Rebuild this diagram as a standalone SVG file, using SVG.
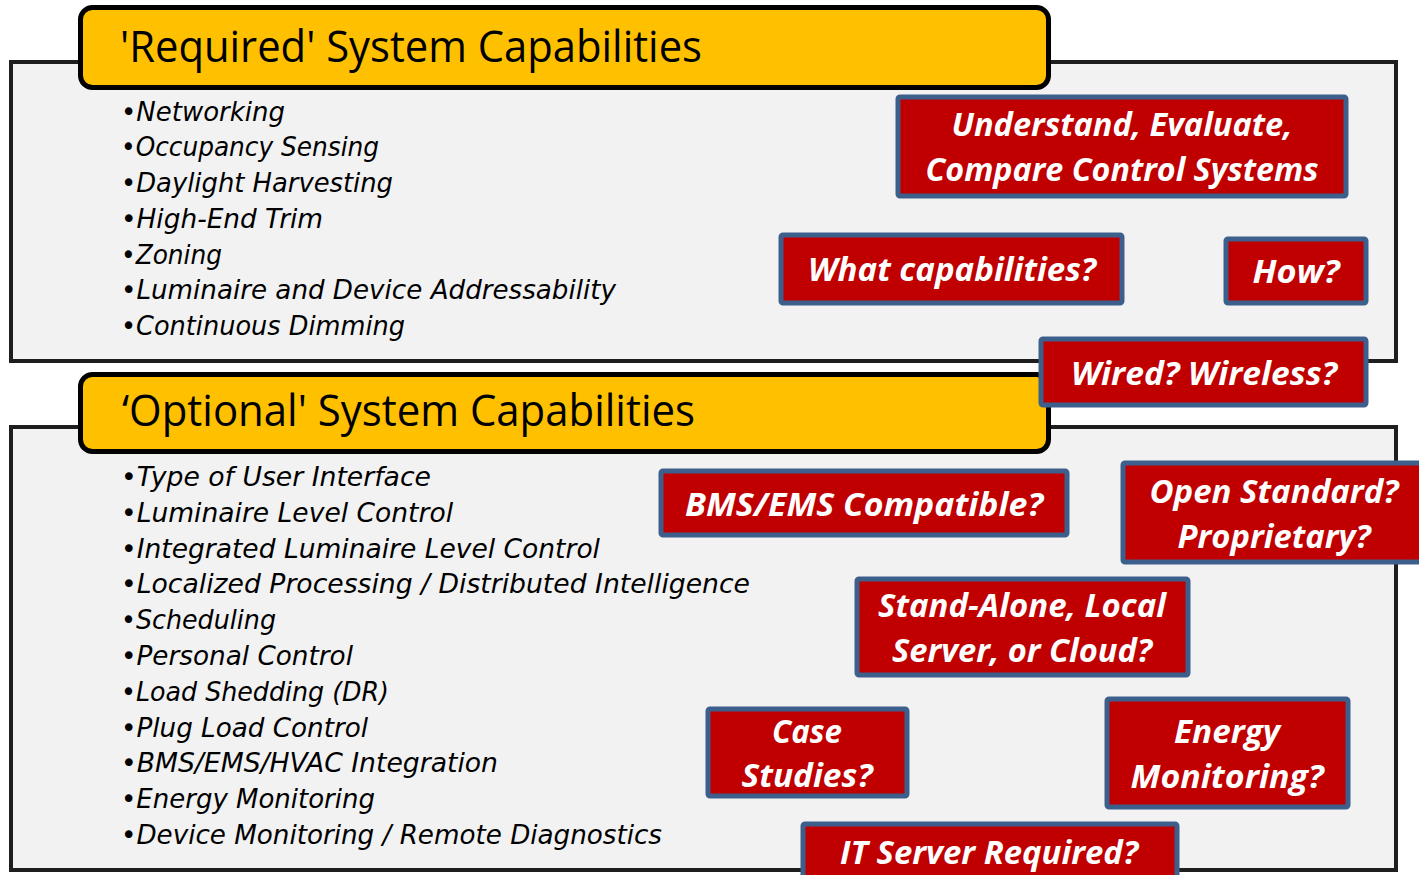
<svg xmlns="http://www.w3.org/2000/svg" width="1419" height="875" viewBox="0 0 1419 875">
  <defs>
    <style>
      .panel { fill: #f2f2f2; stroke: #1e1e1e; stroke-width: 4; }
      .header { fill: #ffc000; stroke: #000000; stroke-width: 5; }
      .title { font-family: "Open Sans", "Liberation Sans", sans-serif; font-size: 44px; fill: #000000; }
      .item { font-family: "DejaVu Sans", "Liberation Sans", sans-serif; font-style: italic; font-size: 27px; fill: #000000; }
      .tag rect { fill: #c00000; stroke: #3d5f8b; stroke-width: 5; }
      .tag text { font-family: "Open Sans", "Liberation Sans", sans-serif; font-style: italic; font-weight: bold; font-size: 32px; fill: #ffffff; text-anchor: middle; }
    </style>
  </defs>
  <rect width="1419" height="875" fill="#ffffff"/>

  <!-- Required capabilities panel -->
  <g id="required">
    <rect class="panel" x="11" y="62" width="1385" height="299"/>
    <rect class="header" x="80.5" y="7.5" width="968" height="80" rx="12"/>
    <text class="title" x="120" y="62" textLength="582" lengthAdjust="spacingAndGlyphs">'Required' System Capabilities</text>
    <text class="item" x="121" y="121" textLength="164" lengthAdjust="spacingAndGlyphs">•Networking</text>
    <text class="item" x="121" y="156" textLength="258" lengthAdjust="spacingAndGlyphs">•Occupancy Sensing</text>
    <text class="item" x="121" y="192" textLength="272" lengthAdjust="spacingAndGlyphs">•Daylight Harvesting</text>
    <text class="item" x="121" y="228" textLength="202" lengthAdjust="spacingAndGlyphs">•High-End Trim</text>
    <text class="item" x="121" y="264" textLength="101" lengthAdjust="spacingAndGlyphs">•Zoning</text>
    <text class="item" x="121" y="299" textLength="495" lengthAdjust="spacingAndGlyphs">•Luminaire and Device Addressability</text>
    <text class="item" x="121" y="335" textLength="284" lengthAdjust="spacingAndGlyphs">•Continuous Dimming</text>
  </g>

  <!-- Optional capabilities panel -->
  <g id="optional">
    <rect class="panel" x="11" y="427" width="1385" height="443"/>
    <rect class="header" x="80.5" y="374.5" width="968" height="77" rx="12"/>
    <text class="title" x="122" y="426" textLength="573" lengthAdjust="spacingAndGlyphs">‘Optional' System Capabilities</text>
    <text class="item" x="121" y="486" textLength="310" lengthAdjust="spacingAndGlyphs">•Type of User Interface</text>
    <text class="item" x="121" y="522" textLength="332" lengthAdjust="spacingAndGlyphs">•Luminaire Level Control</text>
    <text class="item" x="121" y="558" textLength="479" lengthAdjust="spacingAndGlyphs">•Integrated Luminaire Level Control</text>
    <text class="item" x="121" y="593" textLength="629" lengthAdjust="spacingAndGlyphs">•Localized Processing / Distributed Intelligence</text>
    <text class="item" x="121" y="629" textLength="155" lengthAdjust="spacingAndGlyphs">•Scheduling</text>
    <text class="item" x="121" y="665" textLength="232" lengthAdjust="spacingAndGlyphs">•Personal Control</text>
    <text class="item" x="121" y="701" textLength="268" lengthAdjust="spacingAndGlyphs">•Load Shedding (DR)</text>
    <text class="item" x="121" y="737" textLength="247" lengthAdjust="spacingAndGlyphs">•Plug Load Control</text>
    <text class="item" x="121" y="772" textLength="377" lengthAdjust="spacingAndGlyphs">•BMS/EMS/HVAC Integration</text>
    <text class="item" x="121" y="808" textLength="254" lengthAdjust="spacingAndGlyphs">•Energy Monitoring</text>
    <text class="item" x="121" y="844" textLength="541" lengthAdjust="spacingAndGlyphs">•Device Monitoring / Remote Diagnostics</text>
  </g>

  <!-- Question tags -->
  <g id="tag-understand" class="tag">
    <rect x="898" y="97" width="448" height="99" rx="2"/>
    <text x="1122" y="136" textLength="341" lengthAdjust="spacingAndGlyphs">Understand, Evaluate,</text>
    <text x="1122" y="181" textLength="393" lengthAdjust="spacingAndGlyphs">Compare Control Systems</text>
  </g>
  <g id="tag-what" class="tag">
    <rect x="781" y="235" width="341" height="68" rx="2"/>
    <text x="952" y="281" textLength="288" lengthAdjust="spacingAndGlyphs">What capabilities?</text>
  </g>
  <g id="tag-how" class="tag">
    <rect x="1226" y="239" width="140" height="64" rx="2"/>
    <text x="1296" y="283" textLength="87" lengthAdjust="spacingAndGlyphs">How?</text>
  </g>
  <g id="tag-wired" class="tag">
    <rect x="1041" y="339" width="325" height="66" rx="2"/>
    <text x="1204" y="385" textLength="266" lengthAdjust="spacingAndGlyphs">Wired? Wireless?</text>
  </g>
  <g id="tag-bms" class="tag">
    <rect x="661" y="471" width="406" height="64" rx="2"/>
    <text x="864" y="516" textLength="358" lengthAdjust="spacingAndGlyphs">BMS/EMS Compatible?</text>
  </g>
  <g id="tag-open" class="tag">
    <rect x="1123" y="463" width="310" height="99" rx="2"/>
    <text x="1274" y="503" textLength="249" lengthAdjust="spacingAndGlyphs">Open Standard?</text>
    <text x="1274" y="548" textLength="193" lengthAdjust="spacingAndGlyphs">Proprietary?</text>
  </g>
  <g id="tag-standalone" class="tag">
    <rect x="857" y="579" width="331" height="96" rx="2"/>
    <text x="1022" y="617" textLength="288" lengthAdjust="spacingAndGlyphs">Stand-Alone, Local</text>
    <text x="1022" y="662" textLength="260" lengthAdjust="spacingAndGlyphs">Server, or Cloud?</text>
  </g>
  <g id="tag-case" class="tag">
    <rect x="708" y="709" width="199" height="87" rx="2"/>
    <text x="807" y="743" textLength="70" lengthAdjust="spacingAndGlyphs">Case</text>
    <text x="807" y="787" textLength="131" lengthAdjust="spacingAndGlyphs">Studies?</text>
  </g>
  <g id="tag-energy" class="tag">
    <rect x="1107" y="699" width="241" height="108" rx="2"/>
    <text x="1227" y="743" textLength="106" lengthAdjust="spacingAndGlyphs">Energy</text>
    <text x="1227" y="788" textLength="193" lengthAdjust="spacingAndGlyphs">Monitoring?</text>
  </g>
  <g id="tag-itserver" class="tag">
    <rect x="803" y="824" width="374" height="60" rx="2"/>
    <text x="989" y="864" textLength="298" lengthAdjust="spacingAndGlyphs">IT Server Required?</text>
  </g>

  <!-- no connectors are drawn between the boxes -->
  <g id="connectors"/>
</svg>
